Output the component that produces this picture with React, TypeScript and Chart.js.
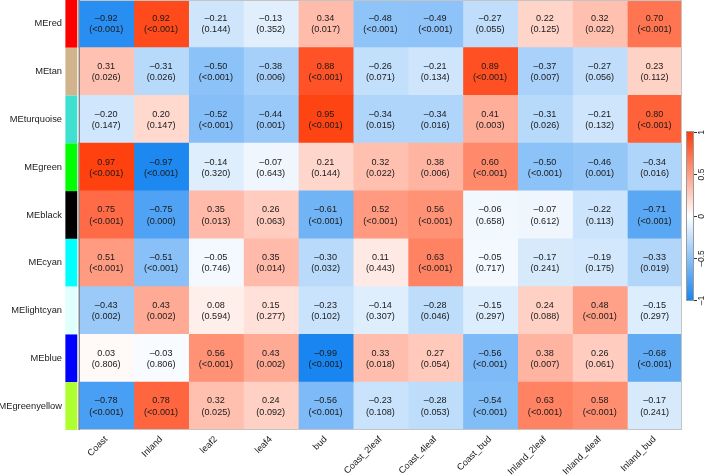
import React, { useEffect, useRef } from "react";
import { Chart, registerables } from "chart.js";

Chart.register(...registerables);

const traits = ["Coast", "Inland", "leaf2", "leaf4", "bud", "Coast_2leaf", "Coast_4leaf", "Coast_bud", "Inland_2leaf", "Inland_4leaf", "Inland_bud"];
const modules = ["MEred", "MEtan", "MEturquoise", "MEgreen", "MEblack", "MEcyan", "MElightcyan", "MEblue", "MEgreenyellow"];
const moduleColors = ["#FF0000", "#D2B48C", "#40E0D0", "#00FF00", "#000000", "#00FFFF", "#E0FFFF", "#0000FF", "#ADFF2F"];

const corRed = [-0.92, 0.92, -0.21, -0.13, 0.34, -0.48, -0.49, -0.27, 0.22, 0.32, 0.70];
const corTan = [0.31, -0.31, -0.50, -0.38, 0.88, -0.26, -0.21, 0.89, -0.37, -0.27, 0.23];
const corTurquoise = [-0.20, 0.20, -0.52, -0.44, 0.95, -0.34, -0.34, 0.41, -0.31, -0.21, 0.80];
const corGreen = [0.97, -0.97, -0.14, -0.07, 0.21, 0.32, 0.38, 0.60, -0.50, -0.46, -0.34];
const corBlack = [0.75, -0.75, 0.35, 0.26, -0.61, 0.52, 0.56, -0.06, -0.07, -0.22, -0.71];
const corCyan = [0.51, -0.51, -0.05, 0.35, -0.30, 0.11, 0.63, -0.05, -0.17, -0.19, -0.33];
const corLightcyan = [-0.43, 0.43, 0.08, 0.15, -0.23, -0.14, -0.28, -0.15, 0.24, 0.48, -0.15];
const corBlue = [0.03, -0.03, 0.56, 0.43, -0.99, 0.33, 0.27, -0.56, 0.38, 0.26, -0.68];
const corGreenyellow = [-0.78, 0.78, 0.32, 0.24, -0.56, -0.23, -0.28, -0.54, 0.63, 0.58, -0.17];

const pRed = ["<0.001", "<0.001", "0.144", "0.352", "0.017", "<0.001", "<0.001", "0.055", "0.125", "0.022", "<0.001"];
const pTan = ["0.026", "0.026", "<0.001", "0.006", "<0.001", "0.071", "0.134", "<0.001", "0.007", "0.056", "0.112"];
const pTurquoise = ["0.147", "0.147", "<0.001", "0.001", "<0.001", "0.015", "0.016", "0.003", "0.026", "0.132", "<0.001"];
const pGreen = ["<0.001", "<0.001", "0.320", "0.643", "0.144", "0.022", "0.006", "<0.001", "<0.001", "0.001", "0.016"];
const pBlack = ["<0.001", "0.000", "0.013", "0.063", "<0.001", "<0.001", "<0.001", "0.658", "0.612", "0.113", "<0.001"];
const pCyan = ["<0.001", "<0.001", "0.746", "0.014", "0.032", "0.443", "<0.001", "0.717", "0.241", "0.175", "0.019"];
const pLightcyan = ["0.002", "0.002", "0.594", "0.277", "0.102", "0.307", "0.046", "0.297", "0.088", "<0.001", "0.297"];
const pBlue = ["0.806", "0.806", "<0.001", "0.002", "<0.001", "0.018", "0.054", "<0.001", "0.007", "0.061", "<0.001"];
const pGreenyellow = ["<0.001", "<0.001", "0.025", "0.092", "<0.001", "0.108", "0.053", "<0.001", "<0.001", "<0.001", "0.241"];

const corMatrix = [corRed, corTan, corTurquoise, corGreen, corBlack, corCyan, corLightcyan, corBlue, corGreenyellow];
const pMatrix = [pRed, pTan, pTurquoise, pGreen, pBlack, pCyan, pLightcyan, pBlue, pGreenyellow];

const colorbarTicks = [1, 0.5, 0, -0.5, -1];
const colorbarLabels = ["1", "0.5", "0", "\u20130.5", "\u20131"];

const BLUE = [22, 132, 240];
const RED = [255, 58, 8];
function colorFor(v: number): string {
  const t = Math.max(-1, Math.min(1, v));
  const end = t < 0 ? BLUE : RED;
  const a = Math.abs(t);
  const c = end.map((e) => Math.round(255 + (e - 255) * a));
  return `rgb(${c[0]},${c[1]},${c[2]})`;
}
function fmt(v: number): string {
  const s = Math.abs(v).toFixed(2);
  return v < 0 ? "\u2013" + s : s;
}

const FONT = "'Liberation Sans', Arial, Helvetica, sans-serif";

export default function App() {
  const ref = useRef<HTMLCanvasElement | null>(null);
  useEffect(() => {
    document.body.style.margin = "0";
    const canvas = ref.current!;
    const nCell = traits.length;

    const cellDatasets = traits.map((t, j) => ({
      label: t,
      data: modules.map(() => [j, j + 1]),
      backgroundColor: modules.map((_, i) => colorFor(corMatrix[i][j])),
      borderWidth: 0,
      grouped: false,
      barPercentage: 1,
      categoryPercentage: 1,
      inflateAmount: 0.5,
    }));
    const stripDataset = {
      label: "module",
      data: modules.map(() => [-0.245, -0.028]),
      backgroundColor: moduleColors,
      borderWidth: 0,
      grouped: false,
      barPercentage: 1,
      categoryPercentage: 1,
      inflateAmount: 0,
    };

    const overlay = {
      id: "overlay",
      afterDatasetsDraw(chart: any) {
        const ctx = chart.ctx;
        const xs = chart.scales.x;
        const ca = chart.chartArea;
        ctx.save();
        ctx.fillStyle = "#1a1a1a";
        ctx.textAlign = "center";
        ctx.textBaseline = "middle";
        ctx.font = `9.1px ${FONT}`;
        for (let j = 0; j < nCell; j++) {
          const meta = chart.getDatasetMeta(j);
          meta.data.forEach((el: any, i: number) => {
            const p = el.getCenterPoint();
            ctx.fillText(fmt(corMatrix[i][j]), p.x, p.y - 5.2);
            ctx.fillText(`(${pMatrix[i][j]})`, p.x, p.y + 6);
          });
        }
        // border of heatmap
        const x0 = xs.getPixelForValue(0);
        const x1 = xs.getPixelForValue(nCell);
        ctx.strokeStyle = "#c4c4c4";
        ctx.lineWidth = 1;
        ctx.strokeRect(x0 + 0.5, ca.top + 0.5, x1 - x0 - 1, ca.bottom - ca.top - 1);
        ctx.strokeStyle = "#7a7a7a";
        ctx.beginPath();
        ctx.moveTo(x0 + 0.5, ca.top);
        ctx.lineTo(x0 + 0.5, ca.bottom);
        ctx.stroke();

        // colorbar
        const cbL = x1 + 4;
        const cbW = 8;
        const cbC = 216;
        const half = 85;
        const yOf = (v: number) => cbC - v * 84;
        const grad = ctx.createLinearGradient(0, cbC - half, 0, cbC + half);
        const stops = 20;
        for (let k = 0; k <= stops; k++) {
          const v = 1 - (2 * k) / stops;
          grad.addColorStop(k / stops, colorFor(v));
        }
        ctx.fillStyle = grad;
        ctx.fillRect(cbL, cbC - half, cbW, 2 * half);
        ctx.strokeStyle = "#9a9a9a";
        ctx.strokeRect(cbL + 0.5, cbC - half + 0.5, cbW - 1, 2 * half - 1);
        ctx.strokeStyle = "#333";
        ctx.fillStyle = "#222";
        ctx.font = `8.5px ${FONT}`;
        colorbarTicks.forEach((v, k) => {
          const y = Math.round(yOf(v)) + 0.5;
          ctx.beginPath();
          ctx.moveTo(cbL + cbW, y);
          ctx.lineTo(cbL + cbW + 3, y);
          ctx.stroke();
          ctx.save();
          ctx.translate(cbL + cbW + 8, y);
          ctx.rotate(-Math.PI / 2);
          ctx.textAlign = "center";
          ctx.textBaseline = "middle";
          ctx.fillText(colorbarLabels[k], 0, 0);
          ctx.restore();
        });
        ctx.restore();
      },
    };

    const chart = new Chart(canvas, {
      type: "bar",
      data: { labels: modules, datasets: [...cellDatasets, stripDataset] as any },
      options: {
        animation: false,
        responsive: true,
        maintainAspectRatio: false,
        indexAxis: "y",
        layout: { padding: { top: 0, right: 27, left: 0, bottom: 0 } },
        plugins: { legend: { display: false }, tooltip: { enabled: false } },
        scales: {
          x: {
            type: "linear",
            min: -0.27,
            max: 11,
            grid: { display: false, drawTicks: false },
            border: { display: false },
            afterBuildTicks: (scale: any) => {
              scale.ticks = traits.map((_, j) => ({ value: j + 0.5 }));
            },
            afterFit: (scale: any) => {
              scale.height = 46;
              scale.paddingLeft = 0;
              scale.paddingRight = 0;
            },
            ticks: {
              autoSkip: false,
              minRotation: 45,
              maxRotation: 45,
              padding: 4,
              color: "#1a1a1a",
              font: { family: FONT, size: 9.2 },
              callback: (_v: any, idx: number) => traits[idx],
            },
          },
          y: {
            type: "category",
            grid: { display: false, drawTicks: false },
            border: { display: false },
            afterFit: (scale: any) => {
              scale.width = 64;
              scale.paddingTop = 0;
              scale.paddingBottom = 0;
            },
            ticks: {
              padding: 2,
              color: "#1a1a1a",
              font: { family: FONT, size: 9.3 },
            },
          },
        },
      } as any,
      plugins: [overlay],
    });
    return () => chart.destroy();
  }, []);

  return (
    <div style={{ width: 709, height: 476, position: "relative" }}>
      <canvas ref={ref} />
    </div>
  );
}
